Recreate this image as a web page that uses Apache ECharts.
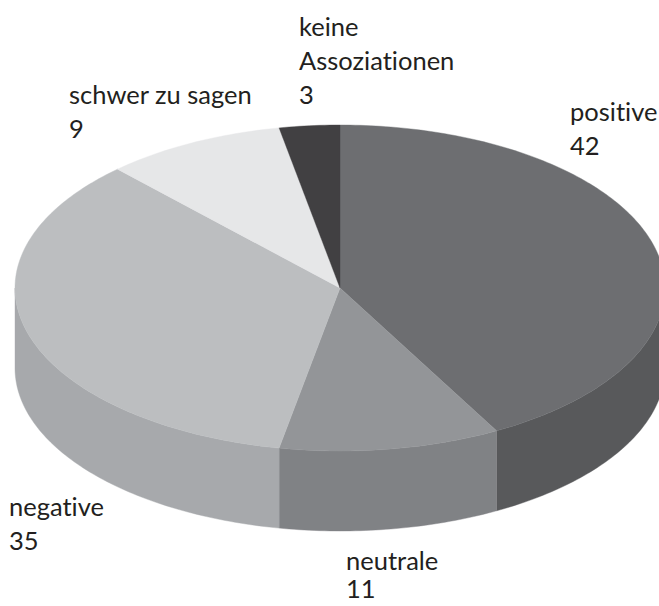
<!DOCTYPE html>
<html>
<head>
<meta charset="utf-8">
<style>html,body{margin:0;padding:0;background:#fff}#c{width:659px;height:606px}svg text{font-variant-ligatures:none !important}</style>
<script src="https://cdn.jsdelivr.net/npm/echarts@6/dist/echarts.min.js"></script>
</head>
<body>
<div id="c"></div>
<script>
const categories = ['positive', 'neutrale', 'negative', 'schwer zu sagen', 'keine Assoziationen'];
const values = [42, 11, 35, 9, 3];
const topColors = ['#6d6e71', '#939598', '#bcbec0', '#e6e7e8', '#414042'];
const sideColors = ['#58595b', '#808285', '#a7a9ac', '#d1d3d4', '#2f2f30'];
const labelLines = [['positive', '42'], ['neutrale', '11'], ['negative', '35'], ['schwer zu sagen', '9'], ['keine', 'Assoziationen', '3']];
const labelAnchors = [[570, 98], [346, 547], [9, 493], [69, 81], [299, 13]];
const labelGaps = [34, 28, 34, 34, 34];

const CX = 340, CY = 288, RX = 325, RY = 163, DEPTH = 80;
const total = values.reduce((a, b) => a + b, 0);
const starts = values.map((_, i) => values.slice(0, i).reduce((a, b) => a + b, 0));

function pt(t, dy) {
  const a = t / total * 2 * Math.PI;
  return [CX + RX * Math.sin(a), CY + dy - RY * Math.cos(a)];
}
function arc(t0, t1, dy) {
  const n = Math.max(2, Math.ceil((t1 - t0) * 4));
  const out = [];
  for (let k = 0; k <= n; k++) out.push(pt(t0 + (t1 - t0) * k / n, dy));
  return out;
}
function renderItem(params, api) {
  const i = params.dataIndex;
  const t0 = api.value(1), t1 = t0 + api.value(0);
  const children = [];
  const s0 = Math.max(t0, total / 4), s1 = Math.min(t1, total * 3 / 4);
  if (s1 > s0) {
    const front = arc(s0, s1, 0);
    const back = arc(s0, s1, DEPTH).reverse();
    children.push({
      type: 'polygon',
      shape: { points: front.concat(back) },
      style: { fill: sideColors[i], stroke: sideColors[i], lineWidth: 0.4 }
    });
  }
  children.push({
    type: 'polygon',
    shape: { points: [[CX, CY]].concat(arc(t0, t1, 0)) },
    style: { fill: topColors[i], stroke: topColors[i], lineWidth: 0.4 }
  });
  return { type: 'group', children };
}

const chart = echarts.init(document.getElementById('c'), null, { renderer: 'svg' });
const labelGraphics = [];
labelLines.forEach((lines, i) => {
  lines.forEach((txt, j) => {
    labelGraphics.push({
      type: 'text',
      left: labelAnchors[i][0],
      top: labelAnchors[i][1] + j * labelGaps[i],
      z: 10,
      style: { text: txt, fill: '#231f20', font: '25.5px Lato' }
    });
  });
});
chart.setOption({
  animation: false,
  backgroundColor: '#ffffff',
  graphic: labelGraphics,
  series: [{
    type: 'custom',
    coordinateSystem: 'none',
    renderItem,
    data: values.map((v, i) => ({ name: categories[i], value: [v, starts[i]] }))
  }]
});
</script>
</body>
</html>
